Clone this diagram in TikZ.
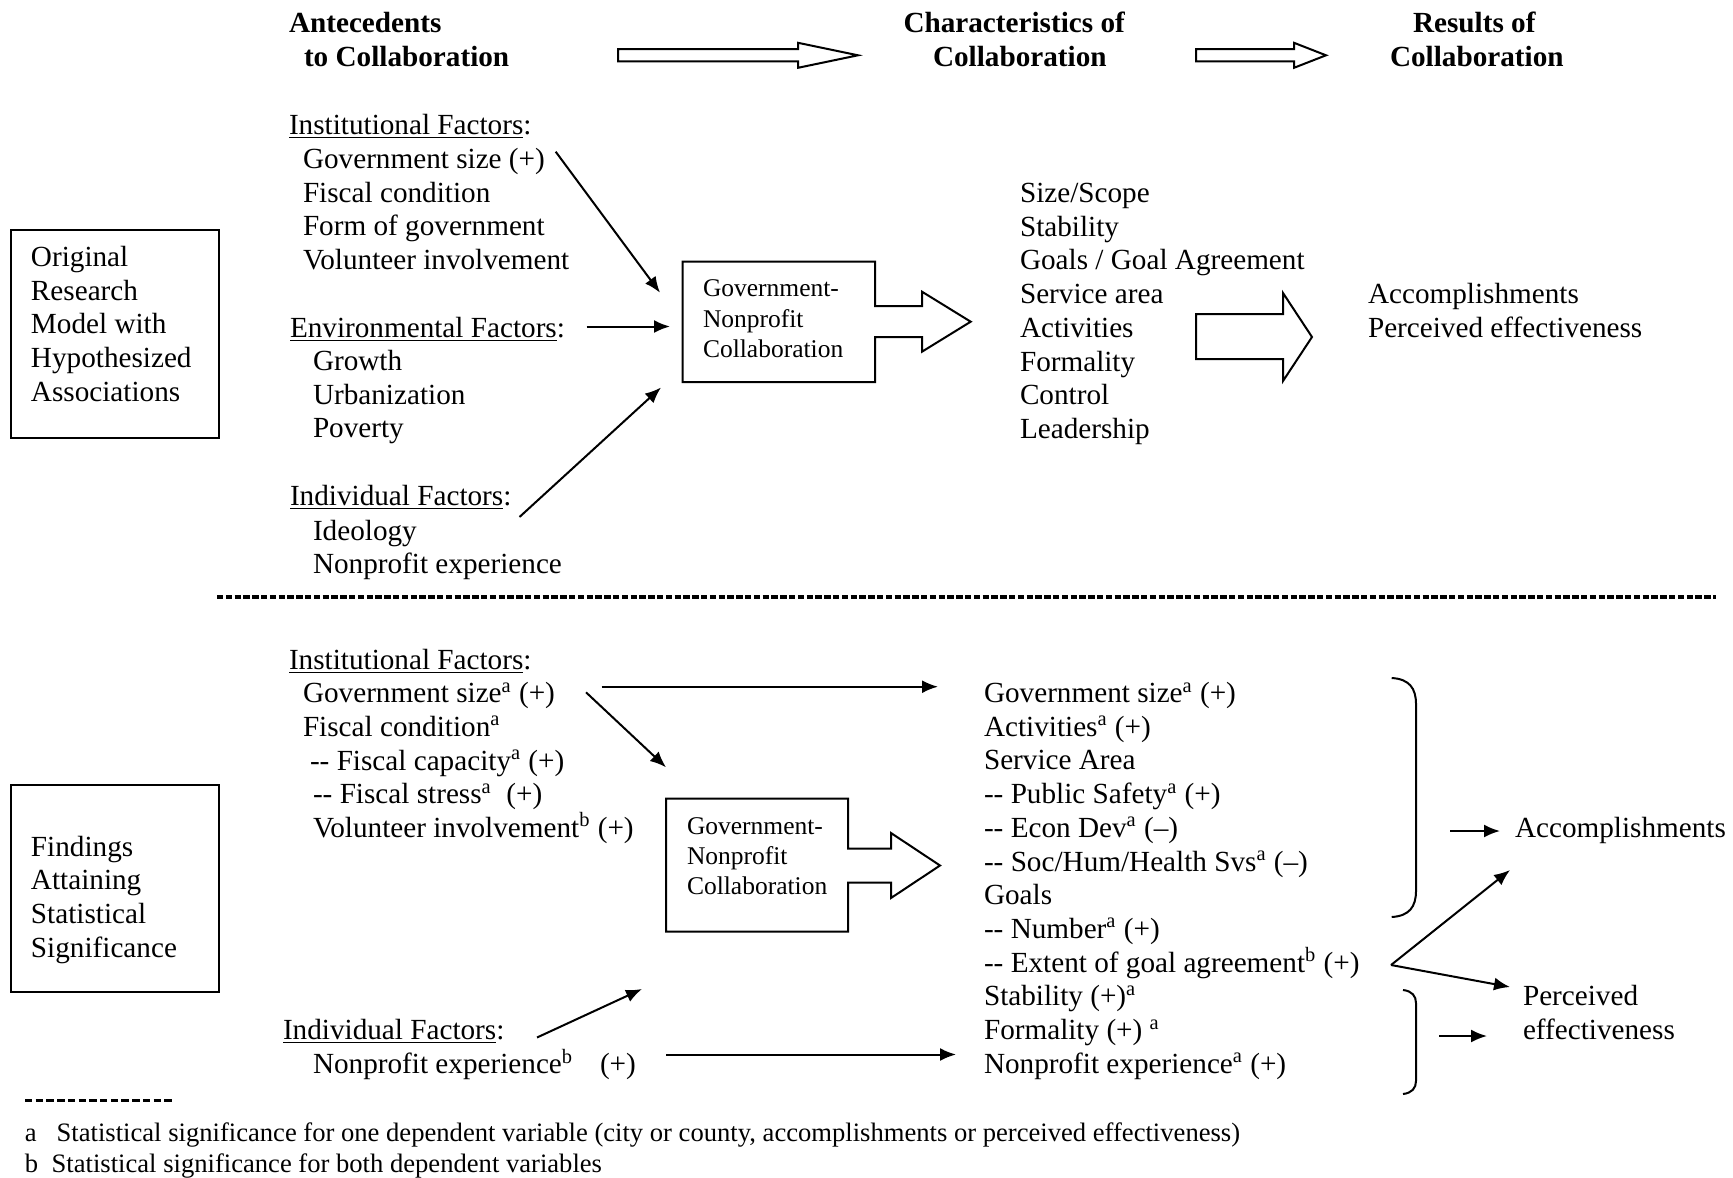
\documentclass[tikz,border=0pt]{standalone}
\usepackage{fontspec}
\setmainfont{Liberation Serif}
\usetikzlibrary{arrows.meta}
\newcommand{\sa}{\textsuperscript{a}}
\newcommand{\sbb}{\textsuperscript{b}}
\begin{document}
\begin{tikzpicture}[x=0.5pt,y=-0.5pt,
  txt/.style={font=\fontsize{14.6}{17}\selectfont,anchor=base west,inner sep=0,outer sep=0},
  hdr/.style={txt,font=\fontsize{14.6}{17}\selectfont\bfseries},
  boxtxt/.style={font=\fontsize{12.75}{15}\selectfont,anchor=base west,inner sep=0,outer sep=0},
  foot/.style={font=\fontsize{13.3}{15}\selectfont,anchor=base west,inner sep=0,outer sep=0},
  frame/.style={draw,line width=1pt,inner sep=0,outer sep=0},
  hollow/.style={draw,line width=1pt,line join=miter},
  arr/.style={draw,line width=1pt,-{Latex[length=8pt,width=6.5pt]}},
  sep/.style={draw,line width=1.6pt,dash pattern=on 3.2pt off 1.2pt}]
\useasboundingbox (0,0) rectangle (1733,1177);

% ---------- column headings ----------
\node[hdr] (antA) at (289,32.5) {Antecedents};
\node[hdr] (antB) at (304,66.7) {to Collaboration};
\node[hdr] (chA) at (903.5,32.5) {Characteristics of};
\node[hdr] (chB) at (933,66.7) {Collaboration};
\node[hdr] (resA) at (1413,32.5) {Results of};
\node[hdr] (resB) at (1390,66.7) {Collaboration};
\path[hollow] (618,49.2) -- (798,49.2) -- (798,42.8) -- (858,55.3) -- (798,67.8) -- (798,61.4) -- (618,61.4) -- cycle;
\path[hollow] (1196,49.2) -- (1294,49.2) -- (1294,42.8) -- (1326,55.3) -- (1294,67.8) -- (1294,61.4) -- (1196,61.4) -- cycle;

% ---------- original research model ----------
\node[frame,minimum width=208*0.5pt,minimum height=208*0.5pt,anchor=north west] (origbox) at (11,230) {};
\foreach \t [count=\i from 0] in {Original,Research,Model with,Hypothesized,Associations}
  \node[txt] (orig\i) at (31,{266.5+33.7*\i}) {\t};

\node[txt] (inst) at (289,134) {\underline{Institutional Factors}:};
\foreach \t [count=\i from 0] in {Government size (+),Fiscal condition,Form of government,Volunteer involvement}
  \node[txt] (inst\i) at (303,{168.5+33.7*\i}) {\t};
\node[txt] (env) at (290,337.5) {\underline{Environmental Factors}:};
\foreach \t [count=\i from 0] in {Growth,Urbanization,Poverty}
  \node[txt] (env\i) at (313,{370.5+33.7*\i}) {\t};
\node[txt] (ind) at (290,505.5) {\underline{Individual Factors}:};
\foreach \t [count=\i from 0] in {Ideology,Nonprofit experience}
  \node[txt] (ind\i) at (313,{540+33.7*\i}) {\t};

% collaboration box with its arrow
\path[hollow] (682.7,261.7) -- (875,261.7) -- (875,306) -- (922,306) -- (922,291.7) -- (970.7,321.7)
  -- (922,351.7) -- (922,337) -- (875,337) -- (875,382) -- (682.7,382) -- cycle;
\node[boxtxt] (gnA) at (703,296.7) {Government-};
\node[boxtxt] (gnB) at (703,327) {Nonprofit};
\node[boxtxt] (gnC) at (703,357.3) {Collaboration};

\coordinate (a1s) at (555.7,151.7);
\coordinate (a1e) at (660,292.7);
\coordinate (a2s) at (586.7,326.5);
\coordinate (a2e) at (670,326.5);
\coordinate (a3s) at (519.5,517);
\coordinate (a3e) at (661,387.5);
\draw[arr] (a1s) -- (a1e);
\draw[arr] (a2s) -- (a2e);
\draw[arr] (a3s) -- (a3e);

\foreach \t [count=\i from 0] in {Size/Scope,Stability,Goals / Goal Agreement,Service area,Activities,Formality,Control,Leadership}
  \node[txt] (ch\i) at (1020,{202.5+33.7*\i}) {\t};

\path[hollow] (1196,314) -- (1283,314) -- (1283,293) -- (1312,337) -- (1283,381) -- (1283,359) -- (1196,359) -- cycle;
\node[txt] (accA) at (1368,303) {Accomplishments};
\node[txt] (pefA) at (1368,337) {Perceived effectiveness};

% ---------- separator ----------
\coordinate (sepL) at (217,597);
\coordinate (sepR) at (1716,597);
\draw[sep] (sepL) -- (sepR);

% ---------- findings ----------
\node[frame,minimum width=208*0.5pt,minimum height=207*0.5pt,anchor=north west] (findbox) at (11,785) {};
\foreach \t [count=\i from 0] in {Findings,Attaining,Statistical,Significance}
  \node[txt] (find\i) at (31,{856+33.7*\i}) {\t};

\node[txt] (binst) at (289,669.5) {\underline{Institutional Factors}:};
\node[txt] (bi0) at (303,702.5) {Government size\sa{} (+)};
\node[txt] (bi1) at (303,736) {Fiscal condition\sa};
\node[txt] (bi2) at (310,770) {-{}- Fiscal capacity\sa{} (+)};
\node[txt] (bi3) at (313,803.5) {-{}- Fiscal stress\sa\ \ (+)};
\node[txt] (bi4) at (313,837) {Volunteer involvement\sbb{} (+)};
\node[txt] (bind) at (283,1039.5) {\underline{Individual Factors}:};
\node[txt] (bnp) at (313,1073.5) {Nonprofit experience\sbb};
\node[txt] (bnpp) at (600,1073.5) {(+)};

\path[hollow] (666,798.7) -- (848,798.7) -- (848,848.7) -- (891,848.7) -- (891,833) -- (940,865.5)
  -- (891,898) -- (891,882.7) -- (848,882.7) -- (848,931.7) -- (666,931.7) -- cycle;
\node[boxtxt] (bgnA) at (687,834.7) {Government-};
\node[boxtxt] (bgnB) at (687,864.5) {Nonprofit};
\node[boxtxt] (bgnC) at (687,894.3) {Collaboration};

\foreach \t [count=\i from 0] in {Government size\sa{} (+),Activities\sa{} (+),Service Area,
    -{}- Public Safety\sa{} (+),-{}- Econ Dev\sa{} (--),-{}- Soc/Hum/Health Svs\sa{} (--),Goals,
    -{}- Number\sa{} (+),-{}- Extent of goal agreement\sbb{} (+),Stability (+)\sa,Formality (+) \sa,
    Nonprofit experience\sa{} (+)}
  \node[txt] (bc\i) at (984,{702.5+33.7*\i}) {\t};

\coordinate (b1s) at (601.7,686.7);
\coordinate (b1e) at (938,686.7);
\coordinate (b2s) at (586,692.3);
\coordinate (b2e) at (666,767.3);
\coordinate (b3s) at (537,1037.5);
\coordinate (b3e) at (642,989);
\coordinate (b4s) at (666,1054.5);
\coordinate (b4e) at (956,1054.5);
\draw[arr] (b1s) -- (b1e);
\draw[arr] (b2s) -- (b2e);
\draw[arr] (b3s) -- (b3e);
\draw[arr] (b4s) -- (b4e);

% brackets grouping the characteristics
\draw[line width=1pt] (1391.7,678) .. controls (1409,679) and (1416,688) .. (1416,704)
  -- (1416,891) .. controls (1416,907) and (1409,916) .. (1391.7,917);
\draw[line width=1pt] (1403,990) .. controls (1412,991) and (1416,996) .. (1416,1003)
  -- (1416,1081) .. controls (1416,1088) and (1412,1093) .. (1403,1094);

\node[txt] (accB) at (1515,837.5) {Accomplishments};
\node[txt] (pefB1) at (1523,1005.5) {Perceived};
\node[txt] (pefB2) at (1523,1039.5) {effectiveness};

\coordinate (c1s) at (1450,831);
\coordinate (c1e) at (1500,831);
\coordinate (c2s) at (1439,1036);
\coordinate (c2e) at (1487,1036);
\coordinate (vtx) at (1391,965);
\coordinate (v1e) at (1510,870);
\coordinate (v2e) at (1510,987);
\draw[arr] (c1s) -- (c1e);
\draw[arr] (c2s) -- (c2e);
\draw[arr] (vtx) -- (v1e);
\draw[arr] (vtx) -- (v2e);

% ---------- footnotes ----------
\coordinate (fdL) at (25,1100.5);
\coordinate (fdR) at (175,1100.5);
\draw[line width=1.6pt,dash pattern=on 3.7pt off 1.66pt] (fdL) -- (fdR);
\node[foot] (fna) at (25,1141) {a};
\node[foot] (fnat) at (56.7,1141) {Statistical significance for one dependent variable (city or county, accomplishments or perceived effectiveness)};
\node[foot] (fnb) at (25,1172) {b};
\node[foot] (fnbt) at (51.7,1172) {Statistical significance for both dependent variables};
\end{tikzpicture}
\end{document}
